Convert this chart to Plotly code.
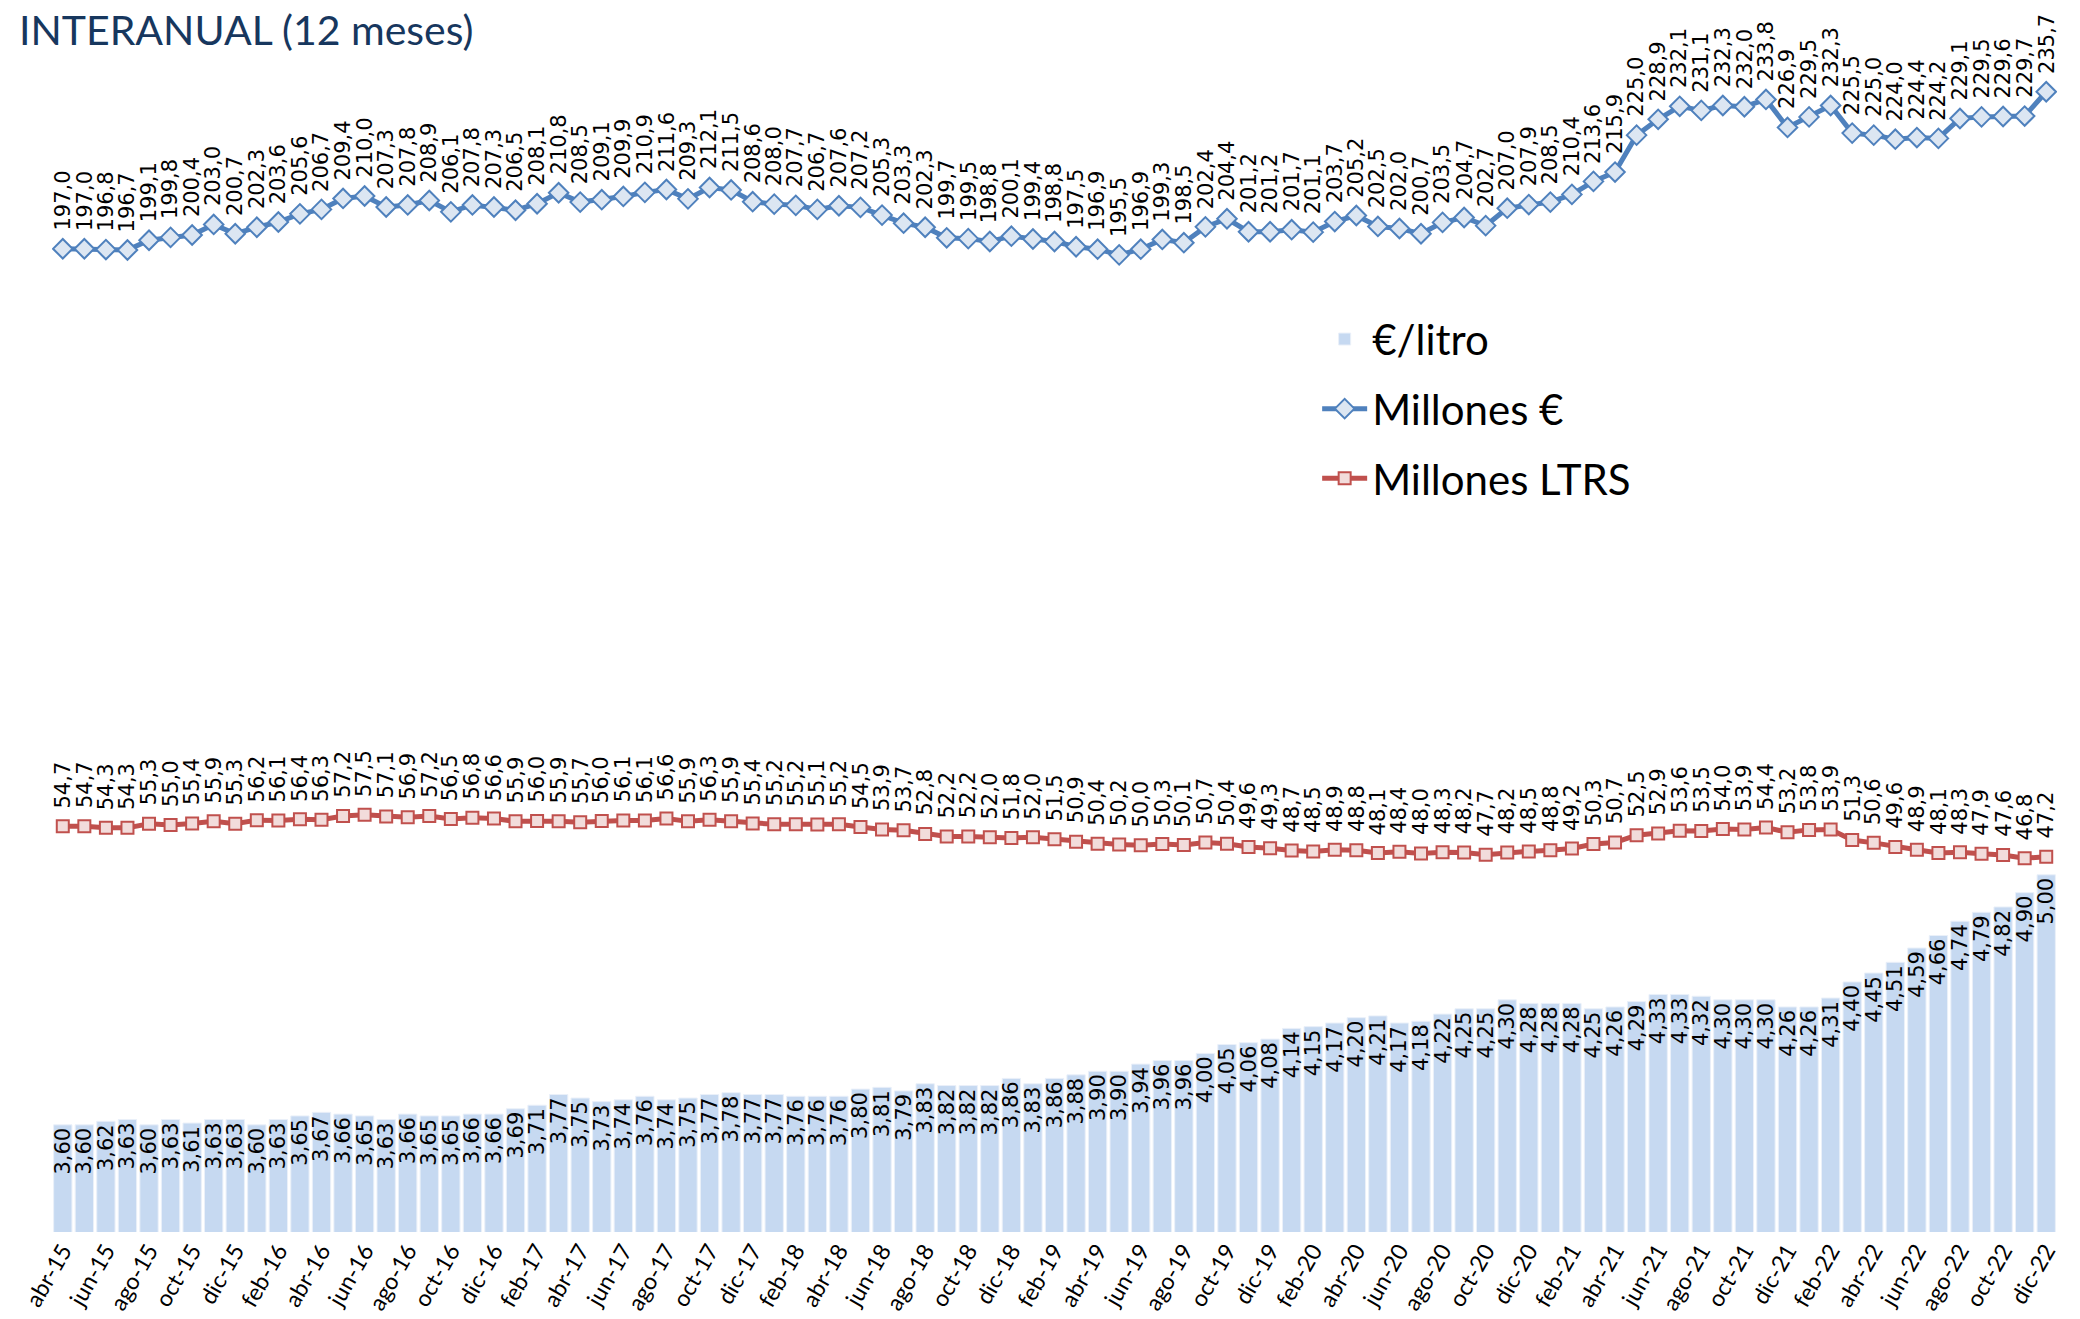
import plotly.graph_objects as go

# ---------------- data ----------------
MONTH_ABBR = ["ene", "feb", "mar", "abr", "may", "jun", "jul", "ago", "sep", "oct", "nov", "dic"]
YEARS = ["15", "16", "17", "18", "19", "20", "21", "22"]
categories = [f"{m}-{YEARS[0]}" for m in MONTH_ABBR[3:]] + [f"{m}-{y}" for y in YEARS[1:] for m in MONTH_ABBR]

euro_litro = [
    3.60, 3.60, 3.62, 3.63, 3.60, 3.63, 3.61, 3.63, 3.63, 3.60, 3.63, 3.65, 3.67, 3.66, 3.65, 3.63,
    3.66, 3.65, 3.65, 3.66, 3.66, 3.69, 3.71, 3.77, 3.75, 3.73, 3.74, 3.76, 3.74, 3.75, 3.77, 3.78,
    3.77, 3.77, 3.76, 3.76, 3.76, 3.80, 3.81, 3.79, 3.83, 3.82, 3.82, 3.82, 3.86, 3.83, 3.86, 3.88,
    3.90, 3.90, 3.94, 3.96, 3.96, 4.00, 4.05, 4.06, 4.08, 4.14, 4.15, 4.17, 4.20, 4.21, 4.17, 4.18,
    4.22, 4.25, 4.25, 4.30, 4.28, 4.28, 4.28, 4.25, 4.26, 4.29, 4.33, 4.33, 4.32, 4.30, 4.30, 4.30,
    4.26, 4.26, 4.31, 4.40, 4.45, 4.51, 4.59, 4.66, 4.74, 4.79, 4.82, 4.90, 5.00,
]

millones_eur = [
    197.0, 197.0, 196.8, 196.7, 199.1, 199.8, 200.4, 203.0, 200.7, 202.3, 203.6, 205.6, 206.7, 209.4,
    210.0, 207.3, 207.8, 208.9, 206.1, 207.8, 207.3, 206.5, 208.1, 210.8, 208.5, 209.1, 209.9, 210.9,
    211.6, 209.3, 212.1, 211.5, 208.6, 208.0, 207.7, 206.7, 207.6, 207.2, 205.3, 203.3, 202.3, 199.7,
    199.5, 198.8, 200.1, 199.4, 198.8, 197.5, 196.9, 195.5, 196.9, 199.3, 198.5, 202.4, 204.4, 201.2,
    201.2, 201.7, 201.1, 203.7, 205.2, 202.5, 202.0, 200.7, 203.5, 204.7, 202.7, 207.0, 207.9, 208.5,
    210.4, 213.6, 215.9, 225.0, 228.9, 232.1, 231.1, 232.3, 232.0, 233.8, 226.9, 229.5, 232.3, 225.5,
    225.0, 224.0, 224.4, 224.2, 229.1, 229.5, 229.6, 229.7, 235.7,
]

millones_ltrs = [
    54.7, 54.7, 54.3, 54.3, 55.3, 55.0, 55.4, 55.9, 55.3, 56.2, 56.1, 56.4, 56.3, 57.2, 57.5, 57.1,
    56.9, 57.2, 56.5, 56.8, 56.6, 55.9, 56.0, 55.9, 55.7, 56.0, 56.1, 56.1, 56.6, 55.9, 56.3, 55.9,
    55.4, 55.2, 55.2, 55.1, 55.2, 54.5, 53.9, 53.7, 52.8, 52.2, 52.2, 52.0, 51.8, 52.0, 51.5, 50.9,
    50.4, 50.2, 50.0, 50.3, 50.1, 50.7, 50.4, 49.6, 49.3, 48.7, 48.5, 48.9, 48.8, 48.1, 48.4, 48.0,
    48.3, 48.2, 47.7, 48.2, 48.5, 48.8, 49.2, 50.3, 50.7, 52.5, 52.9, 53.6, 53.5, 54.0, 53.9, 54.4,
    53.2, 53.8, 53.9, 51.3, 50.6, 49.6, 48.9, 48.1, 48.3, 47.9, 47.6, 46.8, 47.2,
]

tick_labels = categories[::2]

# ---------------- styles ----------------
LABEL_FONT = dict(family="DejaVu Sans", size=21, color="black")
UI_FONT = "Lato"

fig = go.Figure()

fig.add_trace(go.Bar(
    x=categories, y=euro_litro, name="€/litro", legendgroup="a",
    marker=dict(color="#C6D9F1", line=dict(color="#EAF0F9", width=1)),
    texttemplate="%{y:.2f}", textposition="inside", insidetextanchor="end",
    textangle=-90, textfont=LABEL_FONT, constraintext="none",
    yaxis="y", hoverinfo="skip",
))

fig.add_trace(go.Scatter(
    x=categories, y=millones_eur, name="Millones €", legendgroup="b",
    mode="lines+markers",
    line=dict(color="#4F81BD", width=5),
    marker=dict(symbol="diamond", size=15, color="#DCE6F2", line=dict(color="#4F81BD", width=2)),
    yaxis="y2", hoverinfo="skip",
))

fig.add_trace(go.Scatter(
    x=categories, y=millones_ltrs, name="Millones LTRS", legendgroup="c",
    mode="lines+markers",
    line=dict(color="#C0504D", width=5),
    marker=dict(symbol="square", size=12, color="#F2DCDB", line=dict(color="#C0504D", width=2)),
    yaxis="y2", hoverinfo="skip",
))

def fmt1(v):
    return f"{v:.1f}".replace(".", ",")

annotations = []
for series in (millones_eur, millones_ltrs):
    for cat, v in zip(categories, series):
        annotations.append(dict(
            x=cat, y=v, xref="x", yref="y2", text=fmt1(v), showarrow=False,
            textangle=-90, xanchor="center", yanchor="bottom", yshift=16,
            font=LABEL_FONT,
        ))

fig.update_layout(
    width=2080, height=1319,
    margin=dict(l=52, r=23, t=30, b=87),
    plot_bgcolor="white", paper_bgcolor="white",
    separators=",.",
    bargap=0.15,
    title=dict(
        text="INTERANUAL (12 meses)", font=dict(family=UI_FONT, size=41, color="#17375E"),
        xref="container", yref="container", x=19 / 2080, xanchor="left",
        y=1 - 31 / 1319, yanchor="middle",
    ),
    xaxis=dict(
        type="category", range=[-0.5, 92.5], tickmode="array",
        tickvals=tick_labels, ticktext=tick_labels, tickangle=-60,
        tickfont=dict(family=UI_FONT, size=23, color="black"),
        showgrid=False, showline=False, zeroline=False, ticks="",
        automargin=False,
    ),
    yaxis=dict(range=[3.0, 9.73], visible=False, showgrid=False),
    yaxis2=dict(range=[-45.29, 250.91], overlaying="y", side="right", visible=False, showgrid=False),
    legend=dict(
        x=0.631, y=0.771, xanchor="left", yanchor="top",
        font=dict(family=UI_FONT, size=42, color="black"),
        itemwidth=45, tracegroupgap=12, bgcolor="rgba(0,0,0,0)",
    ),
    annotations=annotations,
    showlegend=True,
)

fig.write_html(
    "out.html",
    config={"displayModeBar": False},
    post_script="document.body.style.margin='0';",
)
